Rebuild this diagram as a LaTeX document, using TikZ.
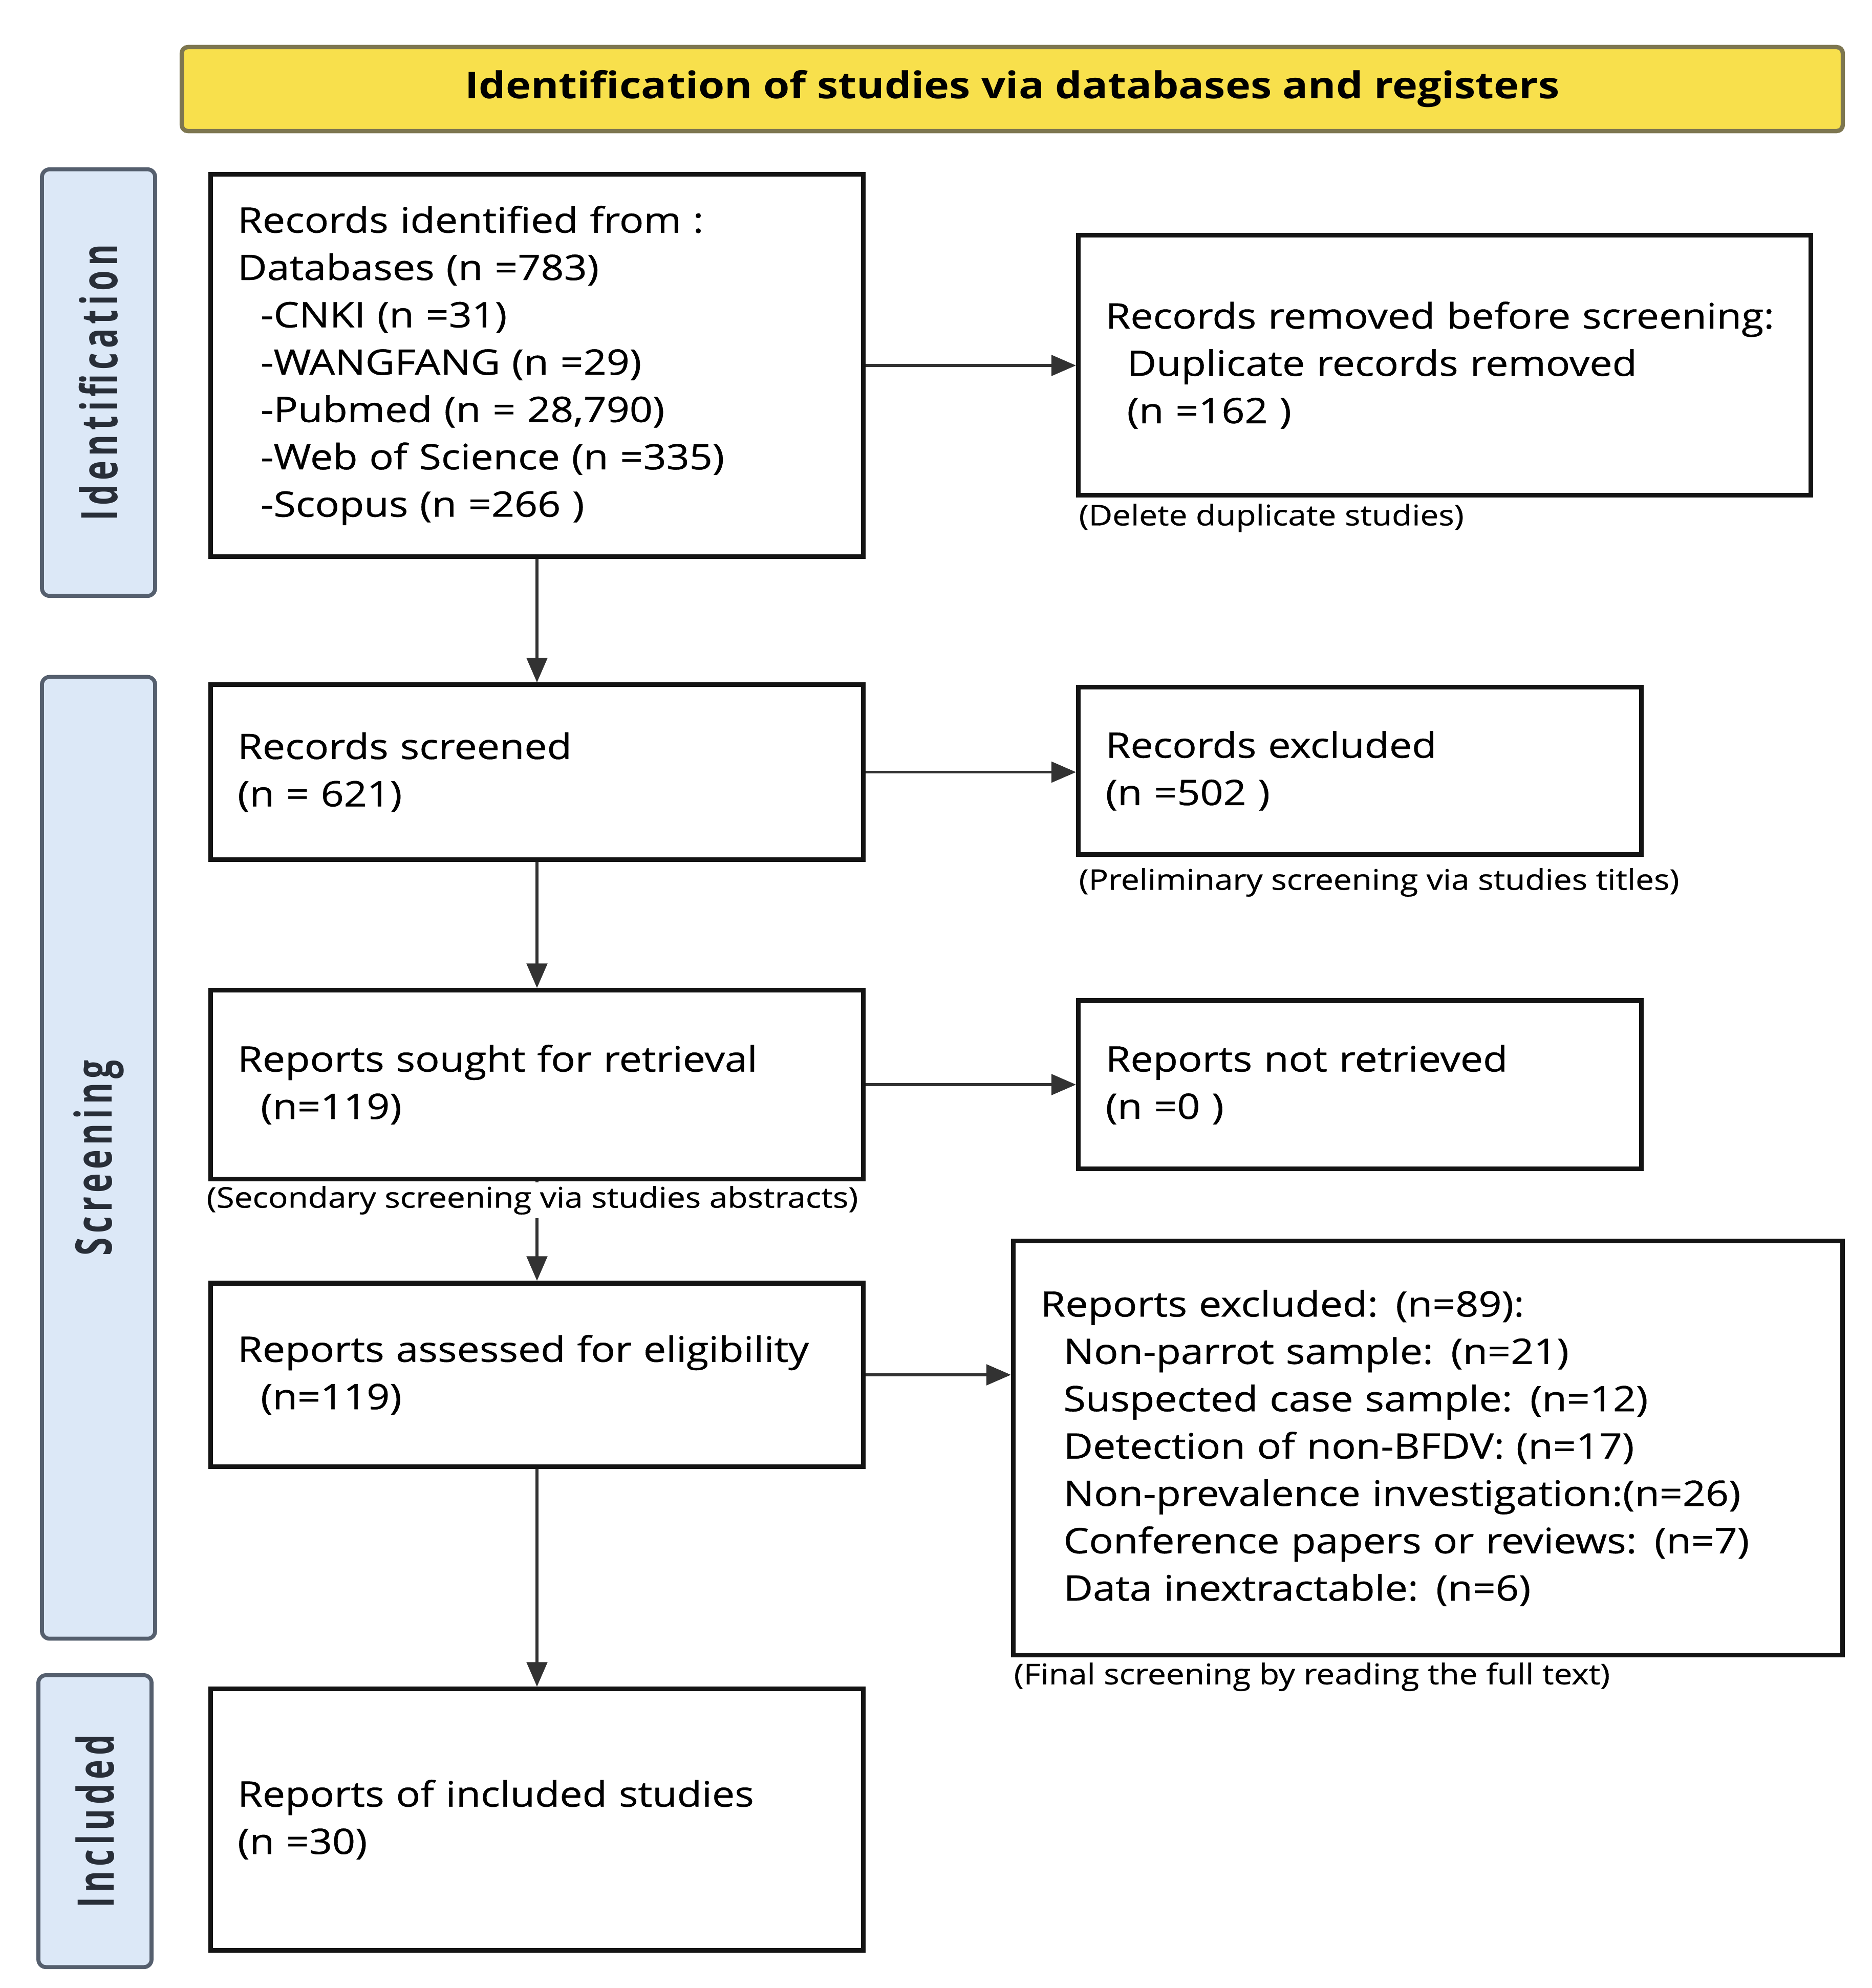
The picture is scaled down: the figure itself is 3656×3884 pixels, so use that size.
\documentclass[tikz,border=0pt]{standalone}
\usepackage{fontspec}
\setmainfont{Open Sans}[FakeStretch=1.15,FakeBold=0.6]
\newfontfamily\titlefont{Open Sans}[FakeStretch=1.15]
\newfontfamily\sidefont{Open Sans}[FakeStretch=0.65,LetterSpace=9]
\usetikzlibrary{arrows.meta}
\definecolor{bannerfill}{RGB}{248,224,76}
\definecolor{bannerdraw}{RGB}{125,118,80}
\definecolor{sidefill}{RGB}{220,232,247}
\definecolor{sidedraw}{RGB}{85,95,110}
\definecolor{sidetext}{RGB}{40,46,56}
\definecolor{arrowcol}{RGB}{50,50,50}
\begin{document}
\begin{tikzpicture}[x=0.01cm,y=-0.01cm,
  box/.style={draw=black!92, line width=2.6pt, fill=white, inner xsep=0.53cm, inner ysep=0pt,
    align=left, anchor=center, font=\fontsize{19.5}{26.3}\selectfont},
  sidebox/.style={draw=sidedraw, line width=2.2pt, fill=sidefill, rounded corners=0.15cm, rotate=90,
    minimum height=2.21cm, inner sep=0pt, text=sidetext, font=\sidefont\bfseries\fontsize{28}{30}\selectfont},
  banner/.style={draw=bannerdraw, line width=2.4pt, fill=bannerfill, rounded corners=0.12cm,
    minimum width=32.43cm, minimum height=1.64cm, font=\titlefont\bfseries\fontsize{20.5}{24}\selectfont},
  caption/.style={anchor=west, inner xsep=0pt, inner ysep=2pt, fill=white, font=\fontsize{15.8}{18}\selectfont},
  arr/.style={draw=arrowcol, line width=1.6pt, -{Triangle[length=0.48cm,width=0.4cm]}}
]
\useasboundingbox (0,0) rectangle (3656,3884);

% banner
\node[banner] (title) at (1977.5,174) {Identification of studies via databases and registers};

% side phase boxes
\node[sidebox, minimum width=8.33cm] (sideid) at (192.5,747.5) {Identification};
\node[sidebox, minimum width=18.78cm] (sidescr) at (192.5,2262) {Screening};
\node[sidebox, minimum width=5.70cm] (sideinc) at (185.5,3558) {Included};

% left column
\node[box, minimum width=12.75cm, text width=11.69cm, minimum height=7.46cm] (ident) at (1049,714) {%
Records identified from :\\
Databases (n =783)\\
\hspace*{0.45cm}-CNKI (n =31)\\
\hspace*{0.45cm}-WANGFANG (n =29)\\
\hspace*{0.45cm}-Pubmed (n = 28,790)\\
\hspace*{0.45cm}-Web of Science (n =335)\\
\hspace*{0.45cm}-Scopus (n =266 )};

\node[box, minimum width=12.75cm, text width=11.69cm, minimum height=3.41cm] (screened) at (1049,1508.5) {%
Records screened\\
(n = 621)};

\node[box, minimum width=12.75cm, text width=11.69cm, minimum height=3.68cm] (sought) at (1049,2119) {%
Reports sought for retrieval\\
\hspace*{0.45cm}(n=119)};

\node[box, minimum width=12.75cm, text width=11.69cm, minimum height=3.58cm] (assessed) at (1049,2686) {%
Reports assessed for eligibility\\
\hspace*{0.45cm}(n=119)};

\node[box, minimum width=12.75cm, text width=11.69cm, minimum height=5.10cm] (included) at (1049,3555) {%
Reports of included studies\\
(n =30)};

% right column
\node[box, minimum width=14.30cm, text width=13.24cm, minimum height=5.07cm] (removed) at (2822,713.5) {%
Records removed before screening:\\
\hspace*{0.42cm}Duplicate records removed\\
\hspace*{0.42cm}(n =162 )};

\node[box, minimum width=10.99cm, text width=9.93cm, minimum height=3.26cm] (excl1) at (2656.5,1506) {%
Records excluded\\
(n =502 )};

\node[box, minimum width=10.99cm, text width=9.93cm, minimum height=3.28cm] (notret) at (2656.5,2119) {%
Reports not retrieved\\
(n =0 )};

\node[box, minimum width=16.19cm, text width=15.13cm, minimum height=8.08cm] (excl2) at (2789.5,2829) {%
Reports excluded: (n=89):\\
\hspace*{0.45cm}Non-parrot sample: (n=21)\\
\hspace*{0.45cm}Suspected case sample: (n=12)\\
\hspace*{0.45cm}Detection of non-BFDV: (n=17)\\
\hspace*{0.45cm}Non-prevalence investigation:(n=26)\\
\hspace*{0.45cm}Conference papers or reviews: (n=7)\\
\hspace*{0.45cm}Data inextractable: (n=6)};

% connectors
\draw[arr] (ident.south) -- (screened.north);
\draw[arr] (screened.south) -- (sought.north);
\draw[arr] (sought.south) -- (assessed.north);
\draw[arr] (assessed.south) -- (included.north);
\draw[arr] (ident.east) -- (ident.east -| removed.west);
\draw[arr] (screened.east) -- (screened.east -| excl1.west);
\draw[arr] (sought.east) -- (sought.east -| notret.west);
\draw[arr] (assessed.east) -- (assessed.east -| excl2.west);

% captions
\node[caption] (cap1) at (2107,1012) {(Delete duplicate studies)};
\node[caption] (cap2) at (2107,1724) {(Preliminary screening via studies titles)};
\node[caption] (cap3) at (403,2345) {(Secondary screening via studies abstracts)};
\node[caption] (cap4) at (1980,3276) {(Final screening by reading the full text)};
\end{tikzpicture}
\end{document}
